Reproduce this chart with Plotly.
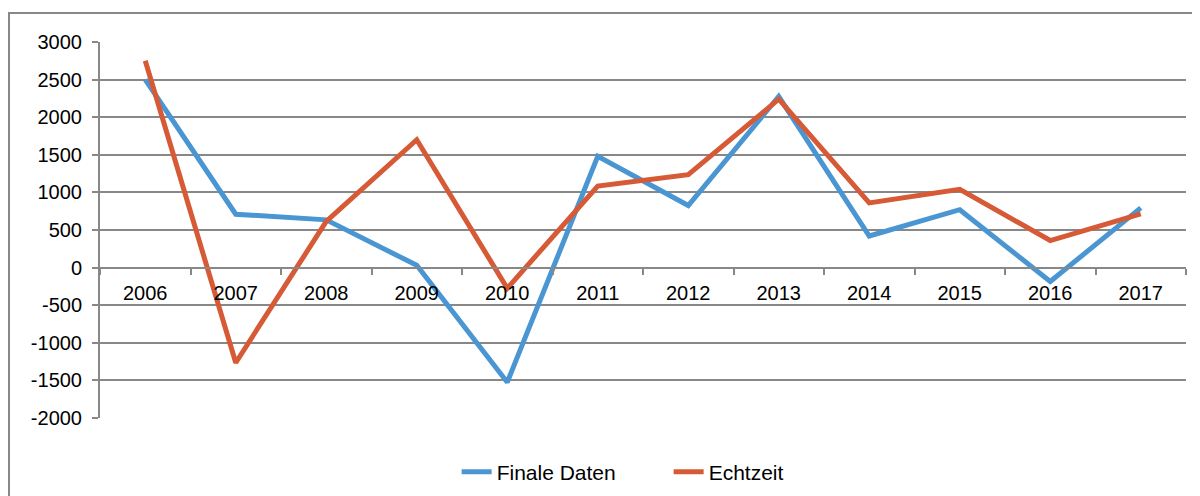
import plotly.graph_objects as go

years = ["2006", "2007", "2008", "2009", "2010", "2011", "2012", "2013", "2014", "2015", "2016", "2017"]
finale_daten = [2500, 710, 635, 30, -1525, 1480, 825, 2275, 420, 770, -185, 795]
echtzeit = [2750, -1265, 615, 1700, -275, 1085, 1235, 2240, 860, 1040, 360, 715]
y_ticks = [3000, 2500, 2000, 1500, 1000, 500, 0, -500, -1000, -1500, -2000]

BLUE = "#4A96D2"
RED = "#D65A35"
GRID = "#888888"
FONT = "Liberation Sans, Arial, sans-serif"

fig = go.Figure()
fig.add_trace(go.Scatter(x=years, y=finale_daten, mode="lines", name="Finale Daten",
                         line=dict(color=BLUE, width=5)))
fig.add_trace(go.Scatter(x=years, y=echtzeit, mode="lines", name="Echtzeit",
                         line=dict(color=RED, width=5)))

fig.update_layout(
    width=1192, height=488,
    margin=dict(l=92, r=14, t=34, b=78, autoexpand=False),
    paper_bgcolor="white", plot_bgcolor="white",
    font=dict(family=FONT, size=20, color="#000000"),
    showlegend=True,
    legend=dict(orientation="h", x=0.3284, xanchor="left", y=-0.144, yanchor="middle",
                font=dict(size=21, color="#000000"), entrywidth=167,
                bgcolor="rgba(0,0,0,0)"),
    xaxis=dict(type="category", anchor="free", position=0.4, range=[-0.5, 11.5],
               showline=True, linecolor=GRID, linewidth=2,
               ticks="outside", tickson="boundaries", ticklen=6, tickwidth=1.5, tickcolor=GRID,
               showgrid=False, zeroline=False, ticklabelstandoff=7,
               tickfont=dict(size=20, color="#000000")),
    yaxis=dict(range=[-2000, 3000], tickvals=y_ticks, ticktext=[str(v) for v in y_ticks],
               showline=True, linecolor=GRID, linewidth=2,
               ticks="outside", ticklen=6, tickwidth=1.5, tickcolor=GRID,
               showgrid=True, gridcolor=GRID, gridwidth=1.5, zeroline=False,
               ticklabelstandoff=6,
               tickfont=dict(size=20, color="#000000")),
    shapes=[dict(type="rect", xref="paper", yref="paper",
                 x0=-0.0838, x1=1.03, y0=-0.25, y1=1.0771,
                 line=dict(color=GRID, width=2), fillcolor="rgba(0,0,0,0)", layer="below")],
)

fig.write_html("out.html")
